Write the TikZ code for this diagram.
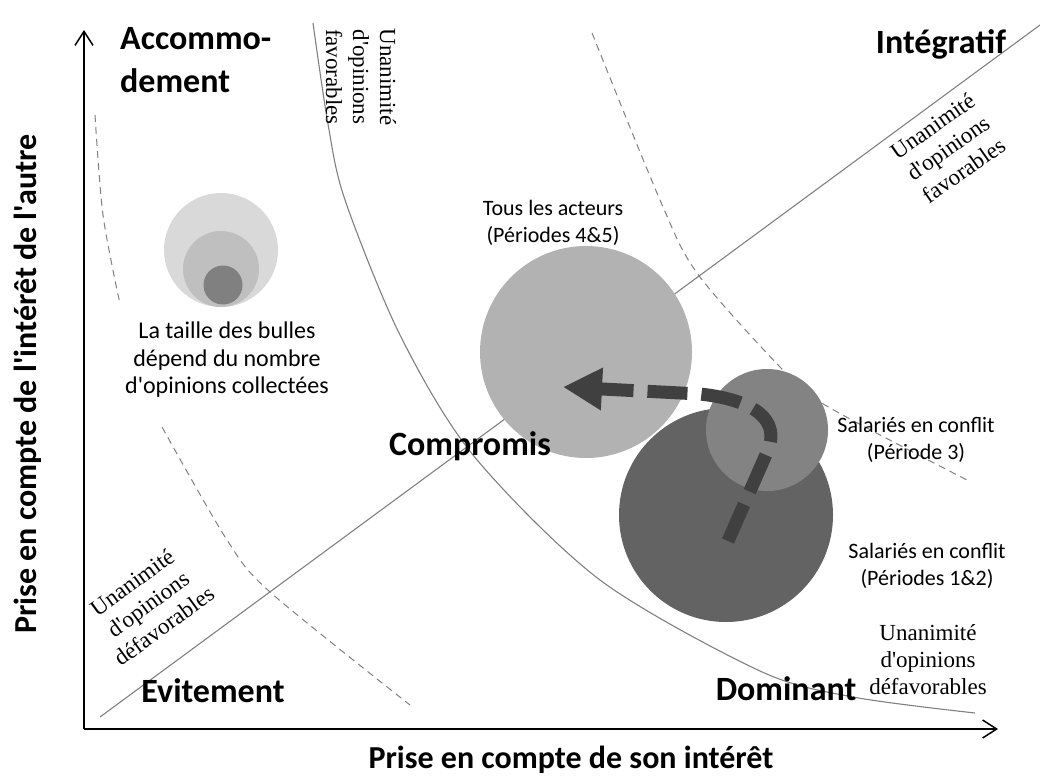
\documentclass[tikz,border=0pt]{standalone}
\usepackage{fontspec}
\setmainfont{Carlito}[Ligatures=TeXOff]
\newfontfamily\timesfont{Liberation Serif}
\usetikzlibrary{arrows.meta}
\definecolor{guide}{RGB}{128,128,128}
\definecolor{bubpale}{RGB}{217,217,217}
\definecolor{bubmid}{RGB}{191,191,191}
\definecolor{bubsmall}{RGB}{128,128,128}
\definecolor{bubtous}{RGB}{178,178,178}
\definecolor{bubthird}{RGB}{131,131,131}
\definecolor{bubdark}{RGB}{99,99,99}
\definecolor{trail}{RGB}{64,64,64}
\tikzset{axis/.style={line width=1.5pt,-{Straight Barb[length=14pt,width=18pt]}},
  guideline/.style={draw=guide,line width=1.1pt},
  guidedash/.style={draw=guide,line width=1pt,dash pattern=on 7pt off 5pt},
  bubble/.style={circle,inner sep=0pt,minimum size=#1},
  zone/.style={font=\fontsize{34}{43}\selectfont\bfseries,inner sep=0pt},
  axislabel/.style={font=\fontsize{32}{38}\selectfont\bfseries,inner sep=0pt},
  caption/.style={font=\fontsize{22}{27}\selectfont,align=center,inner sep=0pt},
  unanim/.style={font=\timesfont\fontsize{23}{27}\selectfont,align=center,inner sep=0pt},
  move/.style={draw=trail,line width=13pt,dash pattern=on 40pt off 14pt,-{Triangle[length=39pt,width=40pt]}}}
\begin{document}
\begin{tikzpicture}[x=1pt,y=-1pt]
\useasboundingbox(0,0)rectangle(1040,779);
\coordinate(O)at(84,729);
\coordinate(ytop)at(84,30);
\coordinate(xend)at(998,729);
% guide lines
\draw[guidedash]plot[smooth]coordinates{(95,115)(103,215)(120,304)};
\draw[guidedash]plot[smooth]coordinates{(162,427)(227,540)(270,592)(410,705)};
\draw[guidedash]plot[smooth]coordinates{(592,33)(660,200)(697,273)(780,367)(825,405)(967,480)};
\draw[guideline](100,717)--(1040,25);
\draw[guideline]plot[smooth]coordinates{(313,23)(328,124)(345,200)(400,335)(473,455)(600,580)(760,671)(853,697)(975,713)};
% bubbles
\node[bubble=114pt,fill=bubpale](leg1)at(221,250){};
\node[bubble=76pt,fill=bubmid](leg2)at(221,269){};
\node[bubble=39pt,fill=bubsmall](leg3)at(223,285){};
\node[bubble=212pt,fill=bubtous](tous)at(586,352){};
\node[bubble=214pt,fill=bubdark](p12)at(726,515){};
\node[bubble=122pt,fill=bubthird](p3)at(767,430){};
% trajectory
\coordinate(start)at(728,541);
\coordinate(goal)at(563,387);
\draw[move](start)--(768,450)..controls(780,420)and(755,400)..(700,394)--(goal);
% axes
\draw[axis](O)--(ytop);
\draw[axis](O)--(xend);
% labels
\node[zone,align=left,anchor=north west](acc)at(120,27){Accommo-\\dement};
\node[zone,anchor=base](integ)at(941,53){Intégratif};
\node[zone,anchor=base](comp)at(470,455){Compromis};
\node[zone,anchor=base](evit)at(213,702){Evitement};
\node[zone,anchor=base](domi)at(786,700){Dominant};
\node[axislabel,anchor=base](xlab)at(571,768){Prise en compte de son intérêt};
\node[axislabel,anchor=base,rotate=90](ylab)at(36,384){Prise en compte de l'intérêt de l'autre};
\node[caption,font=\fontsize{24}{27.5}\selectfont,anchor=north](legtxt)at(227,322){La taille des bulles\\dépend du nombre\\d'opinions collectées};
\node[caption,anchor=north](toustxt)at(553,200){Tous les acteurs\\(Périodes 4\&5)};
\node[caption,anchor=north](p3txt)at(916,417){Salariés en conflit\\(Période 3)};
\node[caption,anchor=north](p12txt)at(927,543){Salariés en conflit\\(Périodes 1\&2)};
\node[unanim,anchor=north](defr)at(928,624){Unanimité\\d'opinions\\défavorables};
\node[unanim,rotate=-90](favt)at(361,77){Unanimité\\d'opinions\\favorables};
\node[unanim,rotate=35](favr)at(948,148){Unanimité\\d'opinions\\favorables};
\node[unanim,rotate=36](defl)at(148,604){Unanimité\\d'opinions\\défavorables};
\end{tikzpicture}
\end{document}
